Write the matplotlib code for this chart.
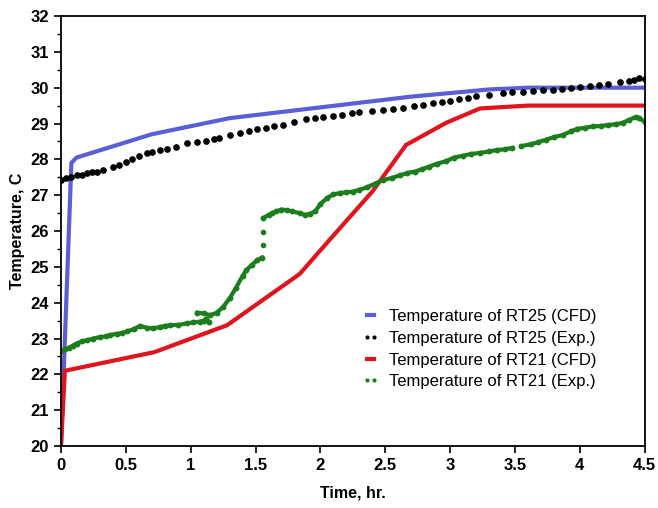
import numpy as np
import matplotlib
matplotlib.use('Agg')
from matplotlib import pyplot as plt
from matplotlib.lines import Line2D

plt.rcParams['font.family'] = ['Liberation Sans', 'DejaVu Sans']

# CFD results
rt25_cfd_t = [0.0, 0.08, 0.12, 0.7, 1.3, 2.0, 2.7, 3.3, 3.6, 4.5]
rt25_cfd_T = [20.0, 27.9, 28.05, 28.7, 29.15, 29.45, 29.75, 29.95, 30.0, 30.0]

rt21_cfd_t = [0.0, 0.03, 0.72, 1.28, 1.84, 2.07, 2.4, 2.66, 2.97, 3.23, 3.6, 4.5]
rt21_cfd_T = [20.0, 22.1, 22.62, 23.37, 24.8, 25.75, 27.1, 28.4, 29.02, 29.42, 29.5, 29.5]

# experimental RT25 (black dots)
rt25_exp_t = [0.00, 0.04, 0.08, 0.12, 0.16, 0.20, 0.24, 0.28, 0.32, 0.40, 0.45, 0.50,
              0.55, 0.60, 0.66, 0.70, 0.76, 0.82, 0.89, 0.97, 1.05, 1.12, 1.18, 1.22,
              1.30, 1.38, 1.45, 1.51, 1.58, 1.64, 1.71, 1.80, 1.89, 1.96, 2.02, 2.10,
              2.17, 2.24, 2.30, 2.40, 2.48, 2.56, 2.64, 2.72, 2.79, 2.87, 2.94, 3.00,
              3.07, 3.14, 3.20, 3.30, 3.41, 3.48, 3.56, 3.64, 3.72, 3.79, 3.86, 3.93,
              4.00, 4.08, 4.15, 4.22, 4.31, 4.38, 4.42, 4.46, 4.50]
rt25_exp_T = [27.42, 27.48, 27.50, 27.55, 27.57, 27.62, 27.66, 27.65, 27.70, 27.78, 27.84, 27.92,
              28.00, 28.08, 28.17, 28.20, 28.26, 28.30, 28.35, 28.45, 28.48, 28.52, 28.57, 28.60,
              28.68, 28.73, 28.78, 28.84, 28.88, 28.92, 28.97, 29.05, 29.12, 29.15, 29.17, 29.22,
              29.25, 29.28, 29.31, 29.35, 29.38, 29.40, 29.43, 29.48, 29.52, 29.57, 29.60, 29.64,
              29.67, 29.72, 29.76, 29.80, 29.85, 29.88, 29.89, 29.90, 29.93, 29.94, 29.97, 30.00,
              30.03, 30.05, 30.08, 30.11, 30.15, 30.18, 30.22, 30.26, 30.24]

# experimental RT21 (green trace, nan = gap in the record)
rt21_exp_t = [0.00, 0.03, 0.06, 0.09, 0.12, 0.16, 0.20, 0.25, 0.30, 0.35, 0.38, 0.43,
              0.47, 0.51, 0.56, 0.61, 0.66, 0.71, 0.76, 0.80, 0.84, 0.90, 0.97, 1.02,
              1.07, 1.10, 1.12, 1.14, np.nan,
              1.05, 1.10, 1.15, 1.20, 1.25, 1.30, 1.35, 1.40, 1.43, 1.47, 1.51, 1.55, np.nan,
              1.56, 1.60, 1.63, 1.66, 1.70, 1.74, 1.78, 1.84, 1.88, 1.92, 1.96, 2.00,
              2.05, 2.10, 2.15, 2.20, 2.25, 2.30, 2.36, 2.42, 2.48, 2.55, 2.61, 2.67,
              2.73, 2.78, 2.84, 2.90, 2.97, 3.03, 3.10, 3.16, 3.23, 3.30, 3.36, 3.42,
              3.48, np.nan,
              3.55, 3.62, 3.68, 3.74, 3.80, 3.87, 3.93, 3.98, 4.04, 4.10, 4.16, 4.22,
              4.28, 4.33, 4.38, 4.43, 4.46, 4.50]
rt21_exp_T = [22.65, 22.70, 22.74, 22.80, 22.86, 22.92, 22.95, 23.00, 23.04, 23.06, 23.10, 23.13,
              23.15, 23.20, 23.26, 23.35, 23.30, 23.28, 23.32, 23.35, 23.37, 23.38, 23.42, 23.45,
              23.47, 23.50, 23.55, 23.45, np.nan,
              23.72, 23.70, 23.65, 23.72, 23.88, 24.12, 24.42, 24.75, 24.91, 25.05, 25.18, 25.26, np.nan,
              26.36, 26.45, 26.50, 26.55, 26.60, 26.58, 26.55, 26.50, 26.45, 26.48, 26.55, 26.75,
              26.92, 27.02, 27.06, 27.08, 27.10, 27.15, 27.22, 27.32, 27.42, 27.48, 27.55, 27.62,
              27.66, 27.72, 27.80, 27.88, 27.95, 28.05, 28.10, 28.15, 28.18, 28.22, 28.26, 28.28,
              28.32, np.nan,
              28.37, 28.42, 28.48, 28.55, 28.62, 28.68, 28.78, 28.85, 28.88, 28.92, 28.93, 28.96,
              28.98, 29.02, 29.10, 29.18, 29.15, 29.05]
# isolated readings during the jump
jump_t = [1.56, 1.56]
jump_T = [25.60, 25.97]

blue = '#5b5fd6'
red = '#e0141c'
green = '#1c7d1c'

fig = plt.figure(figsize=(6.58, 5.08), dpi=100)
ax = fig.add_axes([0.0927, 0.122, 0.887, 0.8465])

ax.plot(rt25_cfd_t, rt25_cfd_T, color=blue, lw=3)
ax.plot(rt25_exp_t, rt25_exp_T, 'o', color='black', ms=3.8)
ax.plot(rt21_cfd_t, rt21_cfd_T, color=red, lw=3)
ax.plot(rt21_exp_t, rt21_exp_T, '-o', color=green, lw=3, ms=3.2)
ax.plot(jump_t, jump_T, 'o', color=green, ms=3)

ax.set_xlim(0, 4.5)
ax.set_ylim(20, 32)
ax.set_xticks(np.arange(0, 4.51, 0.5))
ax.set_xticklabels(['0', '0.5', '1', '1.5', '2', '2.5', '3', '3.5', '4', '4.5'])
ax.set_yticks(np.arange(20, 33, 1))
ax.set_yticks(np.arange(20, 32, 0.5), minor=True)
ax.tick_params(axis='both', labelsize=12, width=1.2, length=5)
ax.tick_params(axis='y', which='minor', length=3, width=1)
for lab in ax.get_xticklabels() + ax.get_yticklabels():
    lab.set_fontweight('bold')
for s in ax.spines.values():
    s.set_linewidth(1.3)

ax.set_xlabel('Time, hr.', fontsize=11.5, fontweight='bold', labelpad=9)
ax.set_ylabel('Temperature, C', fontsize=11.5, fontweight='bold', labelpad=4)

handles = [
    Line2D([], [], color=blue, lw=3),
    Line2D([], [], color='black', marker='o', ls='none', ms=2),
    Line2D([], [], color=red, lw=3),
    Line2D([], [], color=green, marker='o', ls='none', ms=2),
]
labels = ['Temperature of RT25 (CFD)', 'Temperature of RT25 (Exp.)',
          'Temperature of RT21 (CFD)', 'Temperature of RT21 (Exp.)']
ax.legend(handles, labels, loc='center left', bbox_to_anchor=(0.505, 0.225),
          frameon=False, fontsize=12, handlelength=1.0, numpoints=2,
          handletextpad=0.6, labelspacing=0.4, borderaxespad=0)

fig.savefig('out.png', dpi=100)
